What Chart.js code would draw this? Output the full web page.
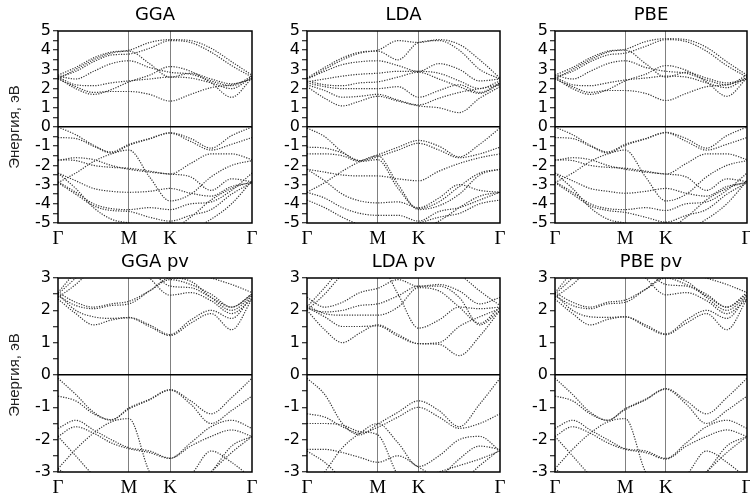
<!DOCTYPE html>
<html>
<head>
<meta charset="utf-8">
<script src="https://cdn.jsdelivr.net/npm/chart.js@4/dist/chart.umd.min.js"></script>
<style>
  html, body { margin: 0; padding: 0; background: #fff; width: 750px; height: 495px; overflow: hidden; }
  canvas { position: absolute; }
</style>
</head>
<body>
<script>
// k-path Γ - M - K - Γ (hexagonal zone, path lengths)
const kPos = [0, 0.577, 0.911, 1.577];
const kNames = ['Γ', 'M', 'K', 'Γ'];
// points where band energies were read: Γ, 3 between Γ-M, M, M-K mid, K, 3 between K-Γ, Γ
const kPts = [0, 0.144, 0.289, 0.433, 0.577, 0.744, 0.911, 1.078, 1.244, 1.411, 1.577];

// ---- GGA ----
const ggaC1 = [2.5, 2.1, 1.8, 1.85, 1.85, 1.7, 1.35, 1.7, 2.05, 2.2, 2.5];
const ggaC2 = [2.55, 2.0, 1.7, 1.95, 2.35, 2.7, 3.15, 2.9, 2.3, 1.55, 2.55];
const ggaC3 = [2.6, 2.2, 2.15, 2.3, 2.4, 2.5, 2.6, 2.55, 2.3, 2.0, 2.6];
const ggaC4 = [2.65, 2.5, 2.9, 3.3, 3.45, 3.1, 2.85, 2.75, 2.4, 2.15, 2.65];
const ggaC5 = [2.6, 2.9, 3.4, 3.75, 3.8, 4.1, 4.5, 4.4, 3.9, 3.2, 2.6];
const ggaC6 = [2.5, 3.0, 3.5, 3.85, 3.95, 3.3, 2.6, 2.8, 2.5, 2.25, 2.5];
const ggaC7 = [2.7, 3.1, 3.6, 3.9, 4.0, 4.4, 4.55, 4.5, 4.1, 3.4, 2.7];
const ggaV1 = [0, -0.4, -0.95, -1.3, -0.9, -0.6, -0.3, -0.6, -1.1, -0.45, 0];
const ggaV2 = [-0.55, -0.6, -1.0, -1.35, -0.95, -0.62, -0.32, -0.75, -1.2, -0.9, -0.55];
const ggaV3 = [-2.9, -2.4, -1.8, -1.4, -1.2, -2.6, -3.85, -3.5, -2.6, -2.0, -1.75];
const ggaV4 = [-1.7, -1.75, -2.0, -2.1, -2.15, -2.3, -2.45, -1.9, -1.4, -1.4, -1.7];
const ggaV5 = [-1.75, -1.6, -1.7, -2.0, -2.2, -2.35, -2.45, -2.6, -3.3, -2.7, -2.85];
const ggaV6 = [-2.4, -2.8, -3.2, -3.35, -3.4, -3.35, -3.2, -3.45, -3.6, -3.1, -2.9];
const ggaV7 = [-2.85, -3.4, -4.0, -4.25, -4.3, -4.2, -4.3, -4.0, -3.9, -3.3, -2.4];
const ggaV8 = [-2.9, -3.5, -4.1, -4.35, -4.4, -4.7, -4.9, -4.6, -4.3, -3.5, -2.9];
const ggaV9 = [-2.4, -3.2, -4.2, -4.8, -5.0, -5.2, -5.0, -5.3, -4.8, -4.0, -2.8];
const ggaV10 = [-5.3, -5.3, -5.3, -5.3, -5.3, -5.2, -5.3, -4.7, -3.8, -3.2, -2.85];

// ---- LDA ----
const ldaC1 = [2.1, 1.5, 1.1, 1.35, 1.6, 1.35, 1.1, 1.0, 0.75, 1.5, 2.1];
const ldaC2 = [2.2, 1.9, 1.55, 1.6, 1.7, 1.4, 1.15, 1.5, 1.8, 2.0, 2.2];
const ldaC3 = [2.3, 2.1, 2.0, 2.0, 2.0, 2.1, 1.55, 1.9, 2.2, 1.8, 2.3];
const ldaC4 = [2.4, 2.2, 2.15, 2.3, 2.35, 2.6, 2.85, 2.5, 2.1, 1.75, 2.25];
const ldaC5 = [2.35, 2.5, 2.65, 2.75, 2.8, 2.9, 2.9, 2.8, 2.4, 2.0, 2.4];
const ldaC6 = [2.5, 2.9, 3.25, 3.4, 3.45, 3.2, 2.9, 3.3, 3.0, 2.4, 2.5];
const ldaC7 = [2.5, 3.0, 3.5, 3.85, 3.95, 3.5, 4.4, 4.5, 4.0, 3.0, 2.5];
const ldaC8 = [2.55, 3.1, 3.6, 3.9, 4.0, 4.5, 4.4, 4.55, 4.3, 3.5, 2.55];
const ldaV1 = [-0.05, -0.5, -1.3, -1.75, -1.45, -1.05, -0.7, -1.0, -1.55, -0.9, -0.05];
const ldaV2 = [-1.05, -1.1, -1.35, -1.75, -1.55, -1.2, -0.85, -1.2, -1.6, -1.4, -1.05];
const ldaV3 = [-1.4, -1.4, -1.5, -1.8, -1.7, -3.2, -4.25, -3.9, -3.1, -2.4, -2.2];
const ldaV4 = [-2.2, -2.35, -2.5, -2.55, -2.55, -2.7, -2.8, -2.3, -1.9, -1.6, -1.4];
const ldaV5 = [-3.4, -2.9, -2.3, -1.8, -1.5, -3.0, -4.3, -4.1, -3.5, -2.5, -2.2];
const ldaV6 = [-2.2, -2.8, -3.5, -3.85, -3.95, -3.9, -4.2, -3.7, -3.0, -3.3, -3.4];
const ldaV7 = [-3.4, -3.7, -4.2, -4.5, -4.6, -4.6, -4.9, -4.4, -4.2, -3.8, -3.4];
const ldaV8 = [-3.8, -4.2, -4.7, -5.1, -5.3, -5.2, -5.0, -4.7, -4.5, -4.0, -3.8];
const ldaV9 = [-5.3, -5.3, -5.3, -5.3, -5.3, -5.2, -5.3, -4.9, -4.2, -3.6, -3.4];

// ---- PBE ----
const pbeC1 = [2.5, 2.1, 1.8, 1.9, 1.9, 1.75, 1.38, 1.75, 2.1, 2.2, 2.5];
const pbeC2 = [2.55, 2.0, 1.7, 1.95, 2.4, 2.75, 3.2, 2.95, 2.35, 1.6, 2.55];
const pbeC3 = [2.6, 2.2, 2.15, 2.3, 2.45, 2.55, 2.65, 2.6, 2.3, 2.05, 2.6];
const pbeC4 = [2.7, 2.5, 2.9, 3.3, 3.45, 3.1, 2.9, 2.8, 2.45, 2.2, 2.7];
const pbeC5 = [2.6, 2.9, 3.4, 3.75, 3.85, 4.2, 4.55, 4.45, 3.95, 3.2, 2.6];
const pbeC6 = [2.5, 3.0, 3.5, 3.9, 4.0, 3.3, 2.6, 2.85, 2.55, 2.3, 2.5];
const pbeC7 = [2.7, 3.1, 3.6, 3.95, 4.05, 4.45, 4.6, 4.55, 4.15, 3.4, 2.7];
const pbeV1 = [0, -0.4, -0.95, -1.3, -0.9, -0.6, -0.28, -0.6, -1.1, -0.45, 0];
const pbeV2 = [-0.55, -0.6, -1.0, -1.35, -0.95, -0.62, -0.3, -0.75, -1.2, -0.9, -0.55];
const pbeV3 = [-2.9, -2.4, -1.8, -1.4, -1.2, -2.6, -3.85, -3.5, -2.6, -2.0, -1.75];
const pbeV4 = [-1.7, -1.75, -2.0, -2.1, -2.15, -2.3, -2.45, -1.9, -1.4, -1.4, -1.7];
const pbeV5 = [-1.75, -1.6, -1.7, -2.0, -2.2, -2.35, -2.45, -2.6, -3.3, -2.7, -2.85];
const pbeV6 = [-2.4, -2.8, -3.2, -3.35, -3.45, -3.35, -3.2, -3.45, -3.6, -3.1, -2.9];
const pbeV7 = [-2.85, -3.4, -4.0, -4.25, -4.3, -4.2, -4.35, -4.0, -3.9, -3.3, -2.4];
const pbeV8 = [-2.9, -3.5, -4.1, -4.35, -4.45, -4.7, -4.95, -4.6, -4.3, -3.5, -2.9];
const pbeV9 = [-2.4, -3.2, -4.2, -4.8, -5.0, -5.2, -5.0, -5.3, -4.8, -4.0, -2.8];
const pbeV10 = [-5.3, -5.3, -5.3, -5.3, -5.3, -5.2, -5.3, -4.7, -3.8, -3.2, -2.85];

// ---- GGA pv ----
const gpC1 = [2.35, 1.9, 1.55, 1.7, 1.77, 1.5, 1.22, 1.6, 1.9, 1.4, 2.35];
const gpC2 = [2.45, 2.15, 2.05, 2.15, 2.2, 2.6, 3.0, 2.9, 2.4, 2.0, 2.45];
const gpC3 = [2.55, 2.25, 2.1, 2.2, 2.28, 2.6, 2.95, 2.8, 2.5, 2.1, 2.5];
const gpC4 = [2.4, 2.8, 3.3, 3.6, 3.6, 3.0, 2.47, 2.55, 2.3, 1.9, 2.35];
const gpC5 = [2.5, 3.0, 3.5, 3.8, 3.9, 3.3, 2.75, 2.7, 2.4, 2.1, 2.5];
const gpC6 = [2.55, 3.2, 3.8, 4.0, 4.0, 3.4, 3.1, 3.2, 3.0, 2.8, 2.55];
const gpC7 = [2.5, 2.0, 1.8, 1.75, 1.78, 1.55, 1.25, 1.7, 2.0, 1.75, 2.45];
const gpV1 = [-0.1, -0.6, -1.15, -1.4, -1.02, -0.75, -0.45, -0.8, -1.2, -0.7, -0.1];
const gpV2 = [-0.65, -0.8, -1.2, -1.38, -1.05, -0.77, -0.47, -0.9, -1.5, -1.1, -0.65];
const gpV3 = [-1.65, -1.4, -1.7, -2.0, -2.25, -2.35, -2.57, -2.1, -1.6, -1.4, -1.65];
const gpV4 = [-1.9, -1.6, -1.8, -2.1, -2.28, -2.4, -2.58, -2.2, -1.9, -1.7, -1.9];
const gpV5 = [-2.9, -2.3, -1.8, -1.45, -1.35, -3.0, -3.7, -3.6, -3.0, -2.4, -1.9];
const gpV6 = [-1.9, -2.5, -3.1, -3.5, -3.6, -3.6, -3.5, -3.1, -2.35, -2.7, -3.2];
const gpV7 = [-2.9, -3.3, -3.7, -3.9, -4.0, -3.9, -3.8, -3.5, -3.0, -2.2, -1.9];

// ---- LDA pv ----
const lpC1 = [2.0, 1.4, 1.0, 1.3, 1.55, 1.25, 0.97, 0.95, 0.6, 1.2, 2.0];
const lpC2 = [2.1, 1.8, 1.5, 1.5, 1.52, 1.2, 0.97, 1.0, 1.5, 1.8, 2.05];
const lpC3 = [2.15, 1.9, 1.85, 1.85, 1.85, 2.1, 2.7, 2.6, 2.1, 1.6, 2.1];
const lpC4 = [2.05, 1.95, 2.0, 2.15, 2.2, 2.45, 2.75, 2.75, 2.4, 1.55, 2.0];
const lpC5 = [2.4, 2.1, 2.25, 2.55, 2.68, 2.95, 2.74, 2.8, 2.6, 2.2, 2.4];
const lpC6 = [2.0, 2.5, 3.1, 3.4, 3.5, 2.5, 1.45, 1.7, 2.1, 2.05, 2.1];
const lpC7 = [2.1, 2.7, 3.3, 3.5, 3.6, 3.3, 3.2, 3.3, 3.1, 2.6, 2.15];
const lpV1 = [-0.1, -0.6, -1.5, -1.85, -1.52, -1.15, -0.8, -1.1, -1.6, -0.9, -0.1];
const lpV2 = [-1.2, -1.3, -1.6, -1.8, -1.62, -1.3, -1.0, -1.3, -1.65, -1.5, -1.2];
const lpV3 = [-1.5, -1.5, -1.55, -1.75, -1.85, -3.1, -3.6, -3.2, -2.6, -2.2, -2.3];
const lpV4 = [-2.3, -2.3, -2.4, -2.55, -2.7, -2.5, -2.85, -3.2, -3.3, -2.8, -2.3];
const lpV5 = [-3.6, -3.0, -2.25, -1.8, -1.5, -2.1, -2.83, -2.5, -2.0, -1.9, -2.35];
const lpV6 = [-2.35, -2.7, -3.2, -3.5, -3.6, -3.4, -3.2, -3.0, -2.8, -2.6, -2.35];

// ---- PBE pv ----
const ppC1 = [2.35, 1.9, 1.55, 1.72, 1.8, 1.5, 1.25, 1.6, 1.9, 1.4, 2.35];
const ppC2 = [2.45, 2.15, 2.05, 2.2, 2.25, 2.65, 3.05, 2.9, 2.4, 2.0, 2.45];
const ppC3 = [2.55, 2.25, 2.1, 2.25, 2.32, 2.65, 3.0, 2.8, 2.5, 2.1, 2.55];
const ppC4 = [2.4, 2.8, 3.3, 3.6, 3.6, 3.0, 2.48, 2.55, 2.3, 1.9, 2.35];
const ppC5 = [2.5, 3.0, 3.5, 3.8, 3.9, 3.3, 2.8, 2.75, 2.45, 2.1, 2.5];
const ppC6 = [2.55, 3.2, 3.8, 4.0, 4.0, 3.4, 3.1, 3.2, 3.0, 2.8, 2.55];
const ppC7 = [2.5, 2.0, 1.8, 1.78, 1.8, 1.55, 1.27, 1.7, 2.0, 1.75, 2.45];
const ppV1 = [-0.1, -0.6, -1.15, -1.4, -1.04, -0.75, -0.42, -0.8, -1.2, -0.7, -0.1];
const ppV2 = [-0.65, -0.8, -1.2, -1.4, -1.07, -0.77, -0.44, -0.9, -1.5, -1.1, -0.65];
const ppV3 = [-1.65, -1.4, -1.7, -2.0, -2.28, -2.35, -2.58, -2.1, -1.6, -1.4, -1.65];
const ppV4 = [-1.9, -1.6, -1.8, -2.1, -2.3, -2.4, -2.6, -2.2, -1.9, -1.7, -1.9];
const ppV5 = [-2.9, -2.3, -1.8, -1.45, -1.35, -3.0, -3.7, -3.6, -3.0, -2.4, -1.9];
const ppV6 = [-1.9, -2.5, -3.1, -3.5, -3.6, -3.6, -3.5, -3.1, -2.35, -2.7, -3.2];
const ppV7 = [-2.9, -3.3, -3.7, -3.9, -4.0, -3.9, -3.8, -3.5, -3.0, -2.2, -1.9];

const panels = [
  { title: 'GGA', left: 58, top: 31, w: 194, h: 192, ymin: -5, ymax: 5, ylabel: true,
    bands: [ggaC1, ggaC2, ggaC3, ggaC4, ggaC5, ggaC6, ggaC7, ggaV1, ggaV2, ggaV3, ggaV4, ggaV5, ggaV6, ggaV7, ggaV8, ggaV9, ggaV10] },
  { title: 'LDA', left: 307, top: 31, w: 193, h: 192, ymin: -5, ymax: 5, ylabel: false,
    bands: [ldaC1, ldaC2, ldaC3, ldaC4, ldaC5, ldaC6, ldaC7, ldaC8, ldaV1, ldaV2, ldaV3, ldaV4, ldaV5, ldaV6, ldaV7, ldaV8, ldaV9] },
  { title: 'PBE', left: 555, top: 31, w: 192, h: 192, ymin: -5, ymax: 5, ylabel: false,
    bands: [pbeC1, pbeC2, pbeC3, pbeC4, pbeC5, pbeC6, pbeC7, pbeV1, pbeV2, pbeV3, pbeV4, pbeV5, pbeV6, pbeV7, pbeV8, pbeV9, pbeV10] },
  { title: 'GGA pv', left: 58, top: 278, w: 194, h: 194, ymin: -3, ymax: 3, ylabel: true,
    bands: [gpC1, gpC2, gpC3, gpC4, gpC5, gpC6, gpC7, gpV1, gpV2, gpV3, gpV4, gpV5, gpV6, gpV7] },
  { title: 'LDA pv', left: 307, top: 278, w: 193, h: 194, ymin: -3, ymax: 3, ylabel: false,
    bands: [lpC1, lpC2, lpC3, lpC4, lpC5, lpC6, lpC7, lpV1, lpV2, lpV3, lpV4, lpV5, lpV6] },
  { title: 'PBE pv', left: 555, top: 278, w: 192, h: 194, ymin: -3, ymax: 3, ylabel: false,
    bands: [ppC1, ppC2, ppC3, ppC4, ppC5, ppC6, ppC7, ppV1, ppV2, ppV3, ppV4, ppV5, ppV6, ppV7] }
];

// box round the plot area
const frame = {
  id: 'frame',
  afterDatasetsDraw(chart) {
    const a = chart.chartArea, c = chart.ctx;
    c.save();
    c.strokeStyle = '#000';
    c.lineWidth = 1.5;
    c.strokeRect(a.left, a.top, a.right - a.left, a.bottom - a.top);
    c.restore();
  }
};

const TITLE_H = 31, XAX_H = 28, PAD_R = 12;

panels.forEach(p => {
  const axisW = p.ylabel ? 58 : 45;
  const cv = document.createElement('canvas');
  cv.width = axisW + p.w + PAD_R;
  cv.height = TITLE_H + p.h + XAX_H;
  cv.style.left = (p.left - axisW) + 'px';
  cv.style.top = (p.top - TITLE_H) + 'px';
  document.body.appendChild(cv);

  new Chart(cv, {
    type: 'line',
    data: {
      datasets: p.bands.map(b => ({
        data: kPts.map((x, i) => ({ x: x, y: b[i] })),
        borderColor: '#333',
        borderWidth: 1.2,
        borderDash: [1.2, 1.4],
        pointRadius: 0,
        cubicInterpolationMode: 'monotone',
        clip: 0
      }))
    },
    options: {
      responsive: false,
      animation: false,
      events: [],
      layout: { padding: { left: 0, right: PAD_R, top: 0, bottom: 0 } },
      plugins: {
        legend: { display: false },
        tooltip: { enabled: false },
        title: {
          display: true, text: p.title, color: '#000', fullSize: false,
          font: { family: 'DejaVu Sans', size: 18, weight: 'normal', lineHeight: 1 },
          padding: { top: 6, bottom: 7 }
        }
      },
      scales: {
        x: {
          type: 'linear', min: 0, max: kPos[3],
          afterBuildTicks: ax => { ax.ticks = kPos.map(v => ({ value: v })); },
          afterFit: ax => { ax.height = XAX_H; },
          ticks: {
            callback: (v, i) => kNames[i],
            color: '#000', autoSkip: false, maxRotation: 0, padding: 5,
            font: { family: 'Liberation Serif, Times New Roman', size: 19 }
          },
          grid: {
            drawTicks: false,
            color: ctx => (ctx.tick && (ctx.tick.value === kPos[1] || ctx.tick.value === kPos[2])) ? '#808080' : 'rgba(0,0,0,0)',
            lineWidth: 1
          },
          border: { display: false }
        },
        y: {
          min: p.ymin, max: p.ymax,
          afterFit: ax => { ax.width = axisW; },
          ticks: {
            stepSize: 0.5, autoSkip: false, padding: 2, color: '#000',
            callback: v => Number.isInteger(v) ? v : '',
            font: { family: 'DejaVu Sans', size: 16 }
          },
          grid: {
            color: ctx => (ctx.tick && ctx.tick.value === 0) ? '#000' : 'rgba(0,0,0,0)',
            lineWidth: 1.5,
            tickColor: '#000', tickWidth: 1, tickLength: 5
          },
          border: { display: false },
          title: {
            display: p.ylabel, text: 'Энергия, эВ', color: '#222',
            font: { family: 'Liberation Sans, Arial', size: 15 },
            padding: { top: 6, bottom: 0 }
          }
        }
      }
    },
    plugins: [frame]
  });
});
</script>
</body>
</html>
